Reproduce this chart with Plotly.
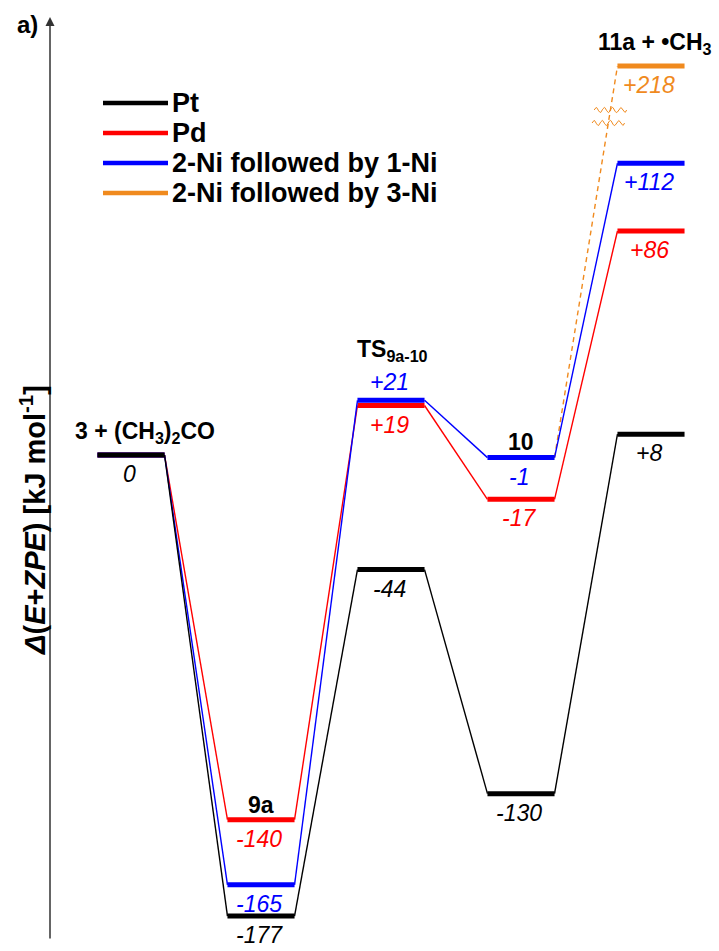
import numpy as np
import plotly.graph_objects as go

# ---------------- data ----------------
stages = ["3 + (CH3)2CO", "9a", "TS9a-10", "10", "11a + •CH3"]
stage_labels = ["3 + (CH<sub>3</sub>)<sub>2</sub>CO", "9a", "TS<sub>9a-10</sub>", "10", "11a + •CH<sub>3</sub>"]
series_names = ["Pt", "Pd", "2-Ni followed by 1-Ni", "2-Ni followed by 3-Ni"]
pt_values = [0, -177, -44, -130, 8]
pd_values = [0, -140, 19, -17, 86]
ni1_values = [0, -165, 21, -1, 112]
ni3_values = [0, -165, 21, -1, 218]
value_labels = {
    "Pt": ["0", "-177", "-44", "-130", "+8"],
    "Pd": ["", "-140", "+19", "-17", "+86"],
    "2-Ni followed by 1-Ni": ["", "-165", "+21", "-1", "+112"],
    "2-Ni followed by 3-Ni": ["", "", "", "", "+218"],
}
ni3_branch_from = 3  # orange path only separates after stage "10"

# ---------------- style ----------------
colors = {"Pt": "#000000", "Pd": "#ff0000", "2-Ni followed by 1-Ni": "#0000ff",
          "2-Ni followed by 3-Ni": "#f08a1e"}
FONT = "Liberation Sans, Arial, sans-serif"
W, H = 719, 951
X0PX, DXPX = 131, 130          # pixel centre of stage 0, spacing
Y0PX, PXPU = 455, 2.605        # pixel of zero energy, px per kJ/mol
HW = 0.258                     # level half width (stage units)
BREAK_AT, BREAK_GAP = 150, 68.7  # broken energy axis


def disp(v):
    return v if v < BREAK_AT else v - BREAK_GAP


def px2x(px):
    return (px - X0PX) / DXPX


def py2y(py):
    return (Y0PX - py) / PXPU


data = {"Pt": pt_values, "Pd": pd_values, "2-Ni followed by 1-Ni": ni1_values,
        "2-Ni followed by 3-Ni": ni3_values}

fig = go.Figure()
draw_order = ["2-Ni followed by 3-Ni", "Pd", "2-Ni followed by 1-Ni", "Pt"]
for name in draw_order:
    vals = [disp(v) for v in data[name]]
    start = ni3_branch_from if name == "2-Ni followed by 3-Ni" else 0
    cx, cy = [], []
    for j in range(start, len(vals) - 1):
        cx += [j + HW, j + 1 - HW, None]
        cy += [vals[j], vals[j + 1], None]
    fig.add_trace(go.Scatter(
        x=cx, y=cy, mode="lines", hoverinfo="skip", showlegend=False,
        line=dict(color=colors[name], width=1.4,
                  dash="5px,4px" if name == "2-Ni followed by 3-Ni" else "solid")))
    lx, ly = [], []
    lstart = start + 1 if name == "2-Ni followed by 3-Ni" else 0
    for j in range(lstart, len(vals)):
        lx += [j - HW, j + HW, None]
        ly += [vals[j], vals[j], None]
    fig.add_trace(go.Scatter(
        x=lx, y=ly, mode="lines", hoverinfo="skip", showlegend=False,
        line=dict(color=colors[name], width=5)))

# break marks on the dashed orange connector
j = ni3_branch_from
ya, yb = disp(ni3_values[j]), disp(ni3_values[j + 1])
xa, xb = j + HW, j + 1 - HW
for yb_px in (110, 123):
    yc = py2y(yb_px)
    xc = xa + (yc - ya) / (yb - ya) * (xb - xa)
    t = np.linspace(-1, 1, 80)
    fig.add_trace(go.Scatter(
        x=xc + t * 0.125, y=yc + 1.0 * np.sin(t * 4 * np.pi),
        mode="lines", hoverinfo="skip", showlegend=False,
        line=dict(color=colors["2-Ni followed by 3-Ni"], width=1)))

ann = []
# value labels
for name in series_names:
    for j, lab in enumerate(value_labels[name]):
        if not lab:
            continue
        ys = 19
        if name == "2-Ni followed by 1-Ni" and j == 2:
            ys = -18
        ann.append(dict(x=j, y=disp(data[name][j]), text=f"<i>{lab}</i>", showarrow=False,
                        xshift=-2, yshift=-ys, yanchor="middle", xanchor="center",
                        font=dict(family=FONT, size=23, color=colors[name])))

# stage titles (bold)
title_pos = [(0, 0, 14, 23), (1, -140, 0, 15), (2, 21, 1, 50), (3, -1, 0, 16), (4, 218, 4, 23)]
for (j, v, xs, ys), lab in zip(title_pos, stage_labels):
    ann.append(dict(x=j, y=disp(v), text=f"<b>{lab}</b>", showarrow=False,
                    xshift=xs, yshift=ys, yanchor="middle", xanchor="center",
                    font=dict(family=FONT, size=23, color="black")))

# vertical energy arrow
ann.append(dict(xref="paper", yref="paper", x=50 / W, y=1 - 17 / H, ax=0, ay=923,
                text="", showarrow=True, arrowhead=2, arrowsize=1.2, arrowwidth=1.5,
                arrowcolor="#333333"))
ann.append(dict(xref="paper", yref="paper", x=33 / W, y=1 - 520 / H, textangle=-90,
                text="<b><i>Δ</i>(<i>E</i>+<i>ZPE</i>) [kJ mol<sup>-1</sup>]</b>",
                showarrow=False, xanchor="center", yanchor="middle",
                font=dict(family=FONT, size=29, color="black")))
ann.append(dict(xref="paper", yref="paper", x=27 / W, y=1 - 25 / H, text="<b>a)</b>",
                showarrow=False, xanchor="center", yanchor="middle",
                font=dict(family=FONT, size=24, color="black")))

# legend
shapes = []
for k, name in enumerate(series_names):
    ypx = 103 + 30 * k
    shapes.append(dict(type="line", xref="paper", yref="paper",
                       x0=103 / W, x1=168 / W, y0=1 - ypx / H, y1=1 - ypx / H,
                       line=dict(color=colors[name], width=4.5)))
    ann.append(dict(xref="paper", yref="paper", x=170 / W, y=1 - ypx / H,
                    text=f"<b>{name}</b>", showarrow=False, xanchor="left", yanchor="middle",
                    font=dict(family=FONT, size=27, color="black")))

fig.update_layout(
    width=W, height=H, margin=dict(l=0, r=0, t=0, b=0),
    paper_bgcolor="white", plot_bgcolor="white",
    xaxis=dict(visible=False, range=[px2x(0), px2x(W)], fixedrange=True),
    yaxis=dict(visible=False, range=[py2y(H), py2y(0)], fixedrange=True),
    annotations=ann, shapes=shapes, showlegend=False,
)
fig.write_html("out.html", config={"displayModeBar": False},
               post_script="document.body.style.margin='0px';")
